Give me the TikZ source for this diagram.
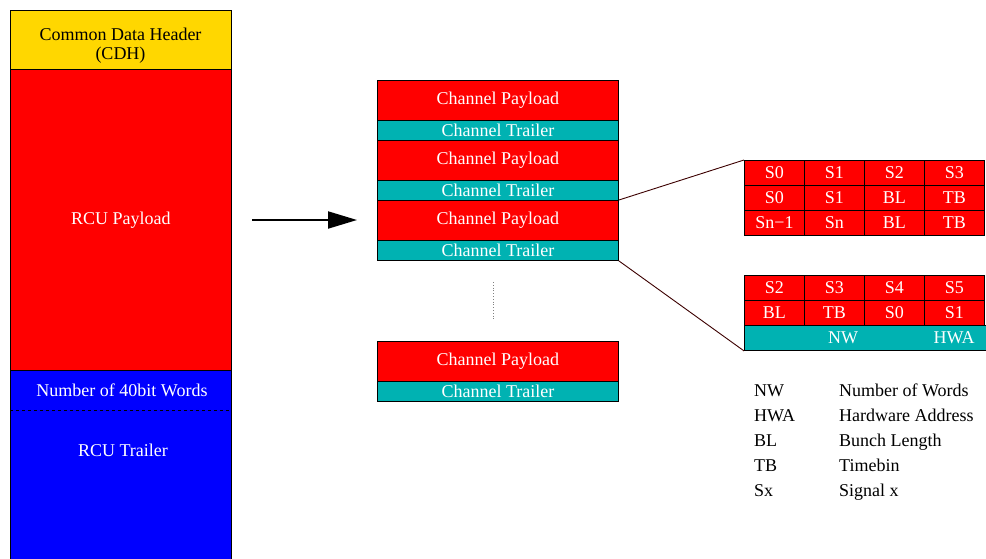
\documentclass[tikz,border=0pt]{standalone}
\usepackage{fontspec}
\setmainfont{Liberation Serif}
\usetikzlibrary{arrows.meta}
\definecolor{cdhyellow}{RGB}{255,215,0}
\definecolor{payred}{RGB}{255,0,0}
\definecolor{trlteal}{RGB}{0,178,178}
\definecolor{trlblue}{RGB}{0,0,255}
\definecolor{linkbrown}{RGB}{60,0,0}
\tikzset{
  blk/.style={draw=black, line width=0.9pt, inner sep=0pt, anchor=north west,
    font=\fontsize{18}{21}\selectfont},
  payload/.style={blk, fill=payred, text=white, minimum width=241pt, minimum height=40pt},
  chtrailer/.style={blk, fill=trlteal, text=white, minimum width=241pt, minimum height=20pt},
  cell/.style={blk, fill=payred, text=white, minimum width=60pt, minimum height=25pt},
  lbl/.style={inner sep=0pt, font=\fontsize{18}{21}\selectfont},
  legend/.style={lbl, anchor=base west},
  link/.style={draw=linkbrown, line width=0.9pt}
}
\begin{document}
\begin{tikzpicture}[x=1pt,y=-1pt]
\useasboundingbox (0,0) rectangle (986,558);

% RCU data block
\node[blk, fill=cdhyellow, minimum width=221pt, minimum height=59pt] (cdh) at (10,10) {};
\node[lbl, align=center] (cdhtxt) at (120.5,46) {Common Data Header\\[-2pt](CDH)};
\node[blk, fill=payred, text=white, minimum width=221pt, minimum height=301pt] (rcupay) at (10,69) {RCU Payload};
\node[blk, fill=trlblue, minimum width=221pt, minimum height=200pt] (rcutrl) at (10,370) {};
\node[lbl, text=white] (nwords) at (122,390) {Number of 40bit Words};
\draw[black, line width=0.9pt, dashed] (rcutrl.west |- 0,410) -- (rcutrl.east |- 0,410);
\node[lbl, text=white] (rcutrltxt) at (123,450) {RCU Trailer};

% expansion arrow
\coordinate (arrs) at (252,220);
\coordinate (arre) at (357,220);
\draw[line width=2pt, -{Triangle[length=29pt,width=17pt]}] (arrs) -- (arre);

% channel blocks
\node[payload] (cp1) at (377,80) {Channel Payload};
\node[chtrailer] (ct1) at (377,120) {Channel Trailer};
\node[payload] (cp2) at (377,140) {Channel Payload};
\node[chtrailer] (ct2) at (377,180) {Channel Trailer};
\node[payload] (cp3) at (377,200) {Channel Payload};
\node[chtrailer] (ct3) at (377,240) {Channel Trailer};
\draw[gray, line width=0.8pt, dotted] (493,282) -- (493,320);
\node[payload] (cp4) at (377,341) {Channel Payload};
\node[chtrailer] (ct4) at (377,381) {Channel Trailer};

% channel payload words
\foreach \r/\a/\b/\c/\d [count=\i] in {0/S0/S1/S2/S3, 1/S0/S1/BL/TB, 2/Sn−1/Sn/BL/TB}{
  \node[cell] (ta\i) at (744,160+25*\r) {\a};
  \node[cell] (tb\i) at (804,160+25*\r) {\b};
  \node[cell] (tc\i) at (864,160+25*\r) {\c};
  \node[cell] (td\i) at (924,160+25*\r) {\d};
}
\foreach \r/\a/\b/\c/\d [count=\i] in {0/S2/S3/S4/S5, 1/BL/TB/S0/S1}{
  \node[cell] (ba\i) at (744,275+25*\r) {\a};
  \node[cell] (bb\i) at (804,275+25*\r) {\b};
  \node[cell] (bc\i) at (864,275+25*\r) {\c};
  \node[cell] (bd\i) at (924,275+25*\r) {\d};
}
\node[blk, fill=trlteal, minimum width=250pt, minimum height=25pt] (btrl) at (744,325) {};
\node[lbl, text=white] (nwtxt) at (843,337.5) {NW};
\node[lbl, text=white] (hwatxt) at (954,337.5) {HWA};

% zoom lines
\draw[link] (cp3.north east) -- (ta1.north west);
\draw[link] (ct3.south east) -- (btrl.south west);

% legend
\foreach \ab/\txt [count=\i] in {NW/Number of Words, HWA/Hardware Address, BL/Bunch Length, TB/Timebin, Sx/Signal x}{
  \node[legend] (lga\i) at (754,371+25*\i) {\ab};
  \node[legend] (lgb\i) at (839,371+25*\i) {\txt};
}
\end{tikzpicture}
\end{document}
